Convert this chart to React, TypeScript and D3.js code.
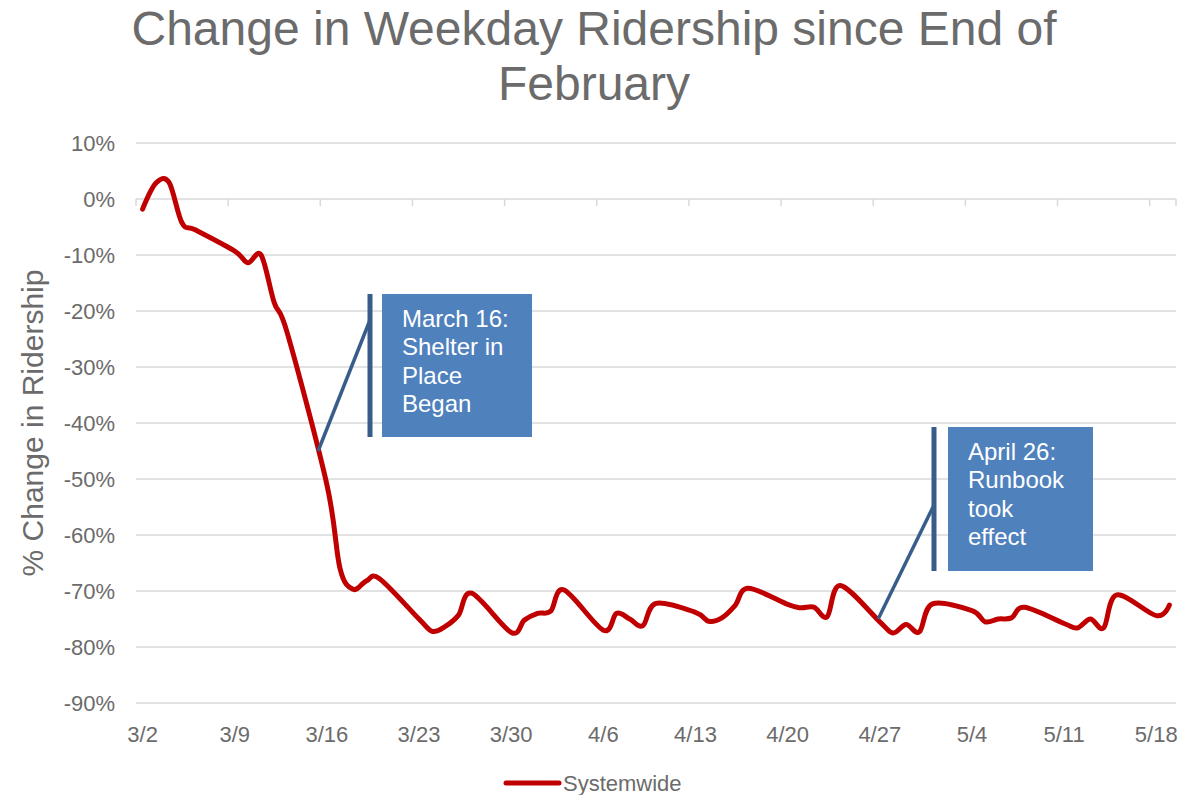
import React, { useEffect, useRef } from 'react';
import * as d3 from 'd3';

// weekday ridership, % change vs end of February
const days = [
  '2020-03-02', '2020-03-03', '2020-03-04', '2020-03-05', '2020-03-06',
  '2020-03-09', '2020-03-10', '2020-03-11', '2020-03-12', '2020-03-13',
  '2020-03-16', '2020-03-17', '2020-03-18', '2020-03-19', '2020-03-20',
  '2020-03-23', '2020-03-24', '2020-03-25', '2020-03-26', '2020-03-27',
  '2020-03-30', '2020-03-31', '2020-04-01', '2020-04-02', '2020-04-03',
  '2020-04-06', '2020-04-07', '2020-04-08', '2020-04-09', '2020-04-10',
  '2020-04-13', '2020-04-14', '2020-04-15', '2020-04-16', '2020-04-17',
  '2020-04-20', '2020-04-21', '2020-04-22', '2020-04-23', '2020-04-24',
  '2020-04-27', '2020-04-28', '2020-04-29', '2020-04-30', '2020-05-01',
  '2020-05-04', '2020-05-05', '2020-05-06', '2020-05-07', '2020-05-08',
  '2020-05-11', '2020-05-12', '2020-05-13', '2020-05-14', '2020-05-15',
  '2020-05-18', '2020-05-19',
];

const systemwide = [
  -1.8, 2.8, 3.0, -4.3, -5.5,
  -9.3, -11.4, -10.0, -18.5, -24.0,
  -51.0, -66.0, -69.7, -68.2, -67.8,
  -75.0, -77.2, -76.3, -74.3, -70.4,
  -77.4, -75.2, -74.0, -73.6, -69.8,
  -77.0, -74.0, -75.0, -76.2, -72.2,
  -73.8, -75.4, -74.8, -72.6, -69.5,
  -72.4, -73.0, -72.9, -74.6, -69.0,
  -75.5, -77.5, -76.0, -77.3, -72.3,
  -73.5, -75.5, -75.0, -74.8, -72.9,
  -75.8, -76.6, -75.0, -76.6, -70.7,
  -74.4, -72.5,
];

const yTicks = [10, 0, -10, -20, -30, -40, -50, -60, -70, -80, -90];
const weekLabels = ['3/2', '3/9', '3/16', '3/23', '3/30', '4/6', '4/13', '4/20', '4/27', '5/4', '5/11', '5/18'];

const notes = [
  { lines: ['March 16:', 'Shelter in', 'Place', 'Began'], at: '2020-03-15T20:00', value: -45, bar: 370, top: 294, bottom: 437, join: 320, box: [382, 532] },
  { lines: ['April 26:', 'Runbook', 'took', 'effect'], at: '2020-04-27T09:00', value: -75, bar: 934, top: 427, bottom: 571, join: 505, box: [948, 1093] },
];

const W = 1204;
const H = 795;
const font = "'Liberation Sans', Arial, sans-serif";
const grey = '#6b6b6b';

const App = () => {
  const ref = useRef(null);

  useEffect(() => {
    const svg = d3.select(ref.current);
    svg.selectAll('*').remove();

    const parse = d3.utcParse('%Y-%m-%d');
    const start = parse('2020-03-02');
    const end = parse('2020-05-20');
    const x = d3.scaleUtc().domain([start, end]).range([136, 1176]);
    const y = d3.scaleLinear().domain([-90, 10]).range([703, 143]);
    const mid = d => d3.utcHour.offset(d, 12);

    // gridlines
    svg
      .append('g')
      .selectAll('line')
      .data(yTicks)
      .join('line')
      .attr('x1', 136)
      .attr('x2', 1176)
      .attr('y1', d => y(d))
      .attr('y2', d => y(d))
      .attr('stroke', '#d9d9d9')
      .attr('stroke-width', 1.5);

    svg
      .append('g')
      .selectAll('text')
      .data(yTicks)
      .join('text')
      .attr('x', 115)
      .attr('y', d => y(d) + 8)
      .attr('text-anchor', 'end')
      .attr('font-size', 22)
      .attr('fill', grey)
      .text(d => d + '%');

    // weekly ticks on the 0% line
    const weeks = weekLabels.map((_, i) => d3.utcDay.offset(start, i * 7));
    svg
      .append('g')
      .selectAll('line')
      .data(weeks.concat([end]))
      .join('line')
      .attr('x1', d => x(d))
      .attr('x2', d => x(d))
      .attr('y1', y(0))
      .attr('y2', y(0) + 7)
      .attr('stroke', '#d9d9d9')
      .attr('stroke-width', 1.5);

    svg
      .append('g')
      .selectAll('text')
      .data(weeks)
      .join('text')
      .attr('x', d => x(mid(d)))
      .attr('y', 742)
      .attr('text-anchor', 'middle')
      .attr('font-size', 22)
      .attr('fill', grey)
      .text((d, i) => weekLabels[i]);

    // series
    const pts = days.map((d, i) => [x(mid(parse(d))), y(systemwide[i])]);
    svg
      .append('path')
      .attr('d', d3.line().curve(d3.curveCardinal.tension(0))(pts))
      .attr('fill', 'none')
      .attr('stroke', '#c00000')
      .attr('stroke-width', 5)
      .attr('stroke-linejoin', 'round')
      .attr('stroke-linecap', 'round');

    // callouts
    const iso = d3.utcParse('%Y-%m-%dT%H:%M');
    notes.forEach(n => {
      const g = svg.append('g');
      g.append('rect')
        .attr('x', n.box[0])
        .attr('y', n.top)
        .attr('width', n.box[1] - n.box[0])
        .attr('height', n.bottom - n.top)
        .attr('fill', '#4f81bd');
      g.append('line')
        .attr('x1', n.bar)
        .attr('x2', n.bar)
        .attr('y1', n.top)
        .attr('y2', n.bottom)
        .attr('stroke', '#385d8a')
        .attr('stroke-width', 5);
      g.append('line')
        .attr('x1', n.bar)
        .attr('y1', n.join)
        .attr('x2', x(iso(n.at)))
        .attr('y2', y(n.value))
        .attr('stroke', '#385d8a')
        .attr('stroke-width', 3.5);
      g.append('text')
        .attr('font-size', 24)
        .attr('fill', '#ffffff')
        .selectAll('tspan')
        .data(n.lines)
        .join('tspan')
        .attr('x', n.box[0] + 20)
        .attr('y', (d, i) => n.top + 33 + i * 28.4)
        .text(d => d);
    });

    // legend
    svg
      .append('line')
      .attr('x1', 506)
      .attr('x2', 559)
      .attr('y1', 783)
      .attr('y2', 783)
      .attr('stroke', '#c00000')
      .attr('stroke-width', 5)
      .attr('stroke-linecap', 'round');
    svg
      .append('text')
      .attr('x', 563)
      .attr('y', 791)
      .attr('font-size', 22)
      .attr('fill', grey)
      .text('Systemwide');
  }, []);

  return (
    <svg
      width={W}
      height={H}
      style={{ position: 'absolute', left: 0, top: 0, background: '#fff' }}
      fontFamily={font}
    >
      <text x={594} y={45} textAnchor="middle" fontSize={48} fill={grey}>
        Change in Weekday Ridership since End of
      </text>
      <text x={594} y={100} textAnchor="middle" fontSize={48} fill={grey}>
        February
      </text>
      <text
        transform="translate(43 423) rotate(-90)"
        textAnchor="middle"
        fontSize={30}
        fill={grey}
      >
        % Change in Ridership
      </text>
      <g ref={ref} />
    </svg>
  );
};

export default App;
